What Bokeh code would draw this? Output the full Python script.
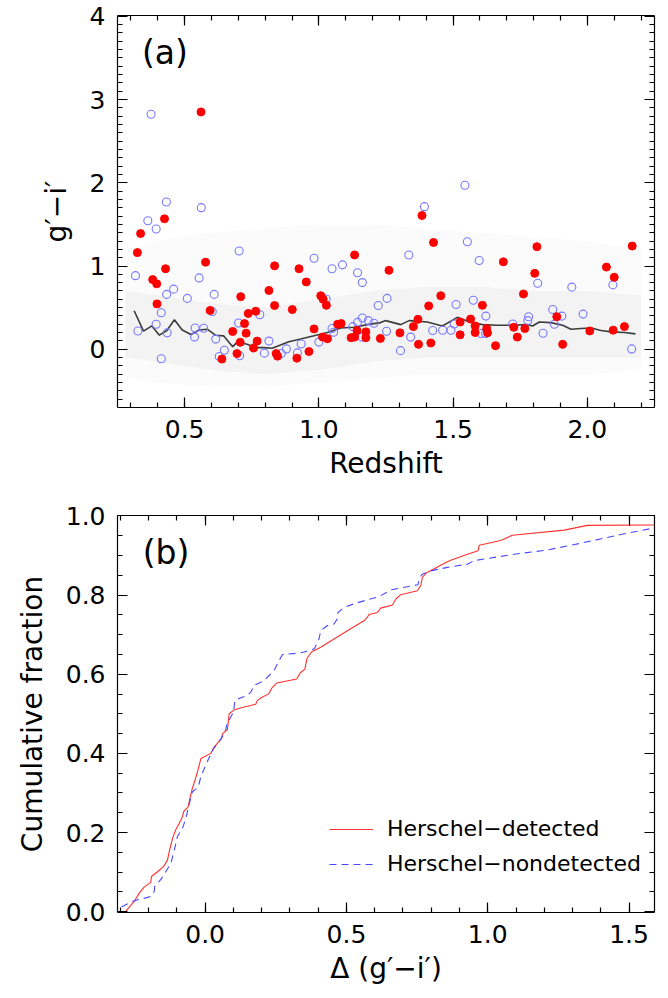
from bokeh.plotting import figure
from bokeh.models import (Range1d, LinearAxis, SingleIntervalTicker, NumeralTickFormatter,
                          CustomJSTickFormatter, Label, Legend, LegendItem)
from bokeh.layouts import column
from bokeh.embed import file_html
from bokeh.resources import INLINE

# ---------------- Panel (a) data ----------------
det_z = [0.561, 0.425, 0.336, 0.324, 0.578, 0.835, 0.926, 1.133, 0.429, 0.381, 0.396, 0.814,
         0.953, 1.007, 1.016, 0.709, 0.397, 0.835, 1.028, 0.901, 0.595, 0.737, 0.765, 0.679,
         0.723, 0.729, 0.707, 0.770, 0.757, 0.639, 0.695, 0.841, 0.846, 0.918, 0.963, 0.982,
         1.014, 1.032, 1.070, 1.083, 1.120, 1.133, 1.142, 1.175, 1.175,
         1.384, 1.427, 1.812, 2.167, 1.687, 1.261, 1.804, 2.071, 2.100, 1.762, 1.454, 1.409,
         1.609, 1.886, 1.369, 1.565, 1.526, 1.352, 1.582, 1.625, 1.726, 1.767, 1.229, 1.302,
         1.526, 1.582, 1.628, 1.371, 1.417, 1.658, 1.739, 1.908, 2.009, 2.096, 2.138]
det_gi = [2.851, 1.567, 1.390, 1.161, 1.046, 1.002, 0.967, 1.133, 0.967, 0.837, 0.786, 0.706,
          0.809, 0.643, 0.600, 0.632, 0.545, 0.525, 0.528, 0.477, 0.466, 0.430, 0.457, 0.213,
          0.308, 0.193, 0.083, 0.098, 0.015, -0.118, -0.052, -0.052, -0.083, -0.107, -0.028, 0.244,
          0.146, 0.126, 0.300, 0.308, 0.139, 0.146, 0.225, 0.209, 0.139,
          1.607, 1.283, 1.232, 1.240, 1.050, 0.948, 0.912, 0.987, 0.865, 0.664, 0.643, 0.521,
          0.528, 0.391, 0.359, 0.363, 0.327, 0.272, 0.280, 0.249, 0.264, 0.249, 0.130, 0.197,
          0.173, 0.201, 0.197, 0.059, 0.075, 0.043, 0.146, 0.059, 0.220, 0.229, 0.272]

non_z = [0.375, 0.432, 0.562, 1.544, 1.393,
         0.363, 0.394, 0.703, 0.982, 1.049, 1.088, 1.144, 1.162, 0.317, 0.554, 0.459, 0.433,
         0.510, 0.610, 1.027, 0.413, 0.603, 0.780, 0.326, 0.394, 0.435, 0.539, 0.571, 0.537,
         0.616, 0.701, 0.814, 0.648, 0.629, 0.413, 0.705, 0.797, 0.860, 0.879, 0.920, 0.934,
         1.000, 1.049, 1.055, 1.126, 1.144, 1.162, 1.161, 1.184, 1.205, 1.221,
         1.553, 1.335, 1.597, 2.095, 1.815, 1.942, 1.254, 1.575, 1.511, 1.871, 1.984, 1.905,
         1.622, 1.781, 1.778, 1.504, 1.722, 1.877, 1.252, 1.342, 1.424, 1.461, 1.492, 1.603,
         1.621, 1.835, 2.165, 1.304]
non_gi = [2.823, 1.769, 1.701, 1.970, 1.713,
          1.544, 1.445, 1.180, 1.094, 0.967, 1.014, 0.919, 0.801, 0.884, 0.857, 0.722, 0.659,
          0.611, 0.659, 0.604, 0.438, 0.454, 0.415, 0.220, 0.300, 0.197, 0.256, 0.252, 0.146,
          0.122, 0.315, 0.098, -0.012, -0.088, -0.115, -0.079, -0.047, -0.052, 0.004, -0.044, 0.063,
          0.086, 0.249, 0.205, 0.272, 0.323, 0.375, 0.146, 0.344, 0.312, 0.525,
          1.291, 1.133, 1.066, 0.773, 0.793, 0.746, 0.611, 0.588, 0.537, 0.477, 0.422, 0.398,
          0.398, 0.391, 0.344, 0.303, 0.303, 0.300, 0.217, 0.146, 0.225, 0.229, 0.229, 0.189,
          0.189, 0.193, 0.004, -0.017]

med_z = [0.312, 0.347, 0.378, 0.406, 0.434, 0.462, 0.491, 0.524, 0.554, 0.584, 0.615, 0.645,
         0.679, 0.695, 0.733, 0.764, 0.795, 0.826, 0.857, 0.888, 0.932, 0.982, 1.032, 1.081,
         1.131, 1.181, 1.230, 1.249, 1.305, 1.336, 1.404, 1.460, 1.516, 1.554, 1.609, 1.665,
         1.728, 1.777, 1.796, 1.821, 1.864, 1.908, 1.939, 1.976, 2.014, 2.051, 2.089, 2.138, 2.179]
med_gi = [0.462, 0.217, 0.280, 0.169, 0.225, 0.355, 0.232, 0.178, 0.232, 0.241, 0.169, 0.161,
          0.031, 0.083, 0.059, 0.019, 0.019, 0.012, 0.051, 0.090, 0.122, 0.161, 0.201, 0.256,
          0.264, 0.296, 0.320, 0.344, 0.296, 0.344, 0.327, 0.280, 0.383, 0.335, 0.296, 0.288,
          0.288, 0.296, 0.280, 0.327, 0.320, 0.288, 0.241, 0.249, 0.256, 0.225, 0.209, 0.201, 0.185]

# background field population (envelopes of the faint grey cloud)
cloud_z = [0.28, 0.40, 0.60, 0.80, 1.00, 1.20, 1.40, 1.60, 1.80, 2.00, 2.20]
cloud_outer_lo = [-0.35, -0.40, -0.45, -0.45, -0.40, -0.35, -0.30, -0.30, -0.30, -0.30, -0.25]
cloud_outer_hi = [1.20, 1.30, 1.40, 1.45, 1.50, 1.50, 1.45, 1.40, 1.35, 1.30, 1.20]
cloud_inner_lo = [-0.10, -0.15, -0.25, -0.30, -0.25, -0.15, -0.10, -0.10, -0.10, -0.10, -0.10]
cloud_inner_hi = [0.70, 0.65, 0.55, 0.50, 0.60, 0.70, 0.75, 0.75, 0.70, 0.70, 0.65]

# ---------------- Panel (b) data ----------------
cdf_det_x = [-0.281, -0.251, -0.233, -0.216, -0.192, -0.190, -0.168, -0.145, -0.133, -0.127,
             -0.115, -0.104, -0.092, -0.080, -0.076, -0.060, -0.051, -0.045, -0.036, -0.027,
             -0.015, 0.020, 0.032, 0.044, 0.058, 0.062, 0.079, 0.085, 0.103, 0.138, 0.179,
             0.185, 0.197, 0.226, 0.235, 0.254, 0.324, 0.336, 0.353, 0.360, 0.376, 0.409,
             0.456, 0.515, 0.562, 0.574, 0.580, 0.610, 0.621, 0.663, 0.675, 0.692, 0.751,
             0.763, 0.769, 0.781, 0.840, 0.869, 0.928, 0.966, 0.970, 1.046, 1.087, 1.270,
             1.353, 1.600]
cdf_det_y = [0.001, 0.026, 0.047, 0.062, 0.074, 0.089, 0.101, 0.116, 0.131, 0.152,
             0.186, 0.207, 0.223, 0.240, 0.253, 0.265, 0.295, 0.312, 0.332, 0.353,
             0.387, 0.400, 0.416, 0.426, 0.437, 0.450, 0.460, 0.500, 0.510, 0.517, 0.524,
             0.534, 0.540, 0.551, 0.564, 0.578, 0.588, 0.603, 0.613, 0.639, 0.656, 0.668,
             0.689, 0.715, 0.735, 0.744, 0.751, 0.756, 0.767, 0.775, 0.790, 0.801, 0.811,
             0.824, 0.845, 0.855, 0.878, 0.888, 0.903, 0.912, 0.926, 0.938, 0.951, 0.964,
             0.976, 0.977]

cdf_non_x = [-0.296, -0.251, -0.210, -0.192, -0.180, -0.178, -0.157, -0.135, -0.121, -0.110,
             -0.098, -0.080, -0.068, -0.057, -0.045, -0.025, -0.015, 0.002, 0.020, 0.030,
             0.044, 0.062, 0.073, 0.077, 0.097, 0.103, 0.105, 0.150, 0.162, 0.173, 0.209,
             0.221, 0.244, 0.262, 0.274, 0.327, 0.350, 0.386, 0.403, 0.409, 0.433, 0.456,
             0.468, 0.470, 0.492, 0.527, 0.574, 0.615, 0.657, 0.692, 0.739, 0.753, 0.760,
             0.769, 0.798, 0.857, 0.928, 0.951, 1.093, 1.211, 1.282, 1.376, 1.470, 1.592]
cdf_non_y = [0.012, 0.028, 0.035, 0.039, 0.051, 0.065, 0.081, 0.106, 0.123, 0.152,
             0.190, 0.211, 0.236, 0.270, 0.303, 0.314, 0.341, 0.370, 0.398, 0.412,
             0.425, 0.443, 0.460, 0.474, 0.500, 0.517, 0.534, 0.547, 0.555, 0.572, 0.584,
             0.593, 0.609, 0.635, 0.650, 0.653, 0.656, 0.664, 0.689, 0.710, 0.723, 0.727,
             0.740, 0.756, 0.769, 0.778, 0.788, 0.796, 0.813, 0.818, 0.824, 0.826, 0.845,
             0.853, 0.861, 0.870, 0.878, 0.887, 0.903, 0.914, 0.924, 0.938, 0.953, 0.970]

FONT = "DejaVu Sans"
TICK_FS = "25px"
LAB_FS = "28px"


def tick_style(ax):
    ax.major_tick_in = 10
    ax.major_tick_out = 0
    ax.minor_tick_in = 5
    ax.minor_tick_out = 0
    ax.axis_line_color = "black"
    ax.major_tick_line_color = "black"
    ax.minor_tick_line_color = "black"
    ax.axis_line_width = 1.2
    ax.major_tick_line_width = 1.2
    ax.minor_tick_line_width = 1.2


def style_axes(p, xint, xminor, yint, yminor, xfmt, yfmt, xlabel, ylabel):
    bottom = p.below[0]
    left = p.left[0]
    bottom.ticker = SingleIntervalTicker(interval=xint, num_minor_ticks=xminor)
    left.ticker = SingleIntervalTicker(interval=yint, num_minor_ticks=yminor)
    bottom.formatter = NumeralTickFormatter(format=xfmt)
    left.formatter = NumeralTickFormatter(format=yfmt)
    bottom.axis_label = xlabel
    left.axis_label = ylabel
    for ax in (bottom, left):
        tick_style(ax)
        ax.major_label_text_font = FONT
        ax.major_label_text_font_size = TICK_FS
        ax.major_label_text_color = "black"
        ax.axis_label_text_font = FONT
        ax.axis_label_text_font_size = LAB_FS
        ax.axis_label_text_font_style = "normal"
        ax.axis_label_text_color = "black"
    bottom.major_label_standoff = 12
    left.major_label_standoff = 12
    bottom.axis_label_standoff = 6
    left.axis_label_standoff = 14
    # mirrored axes (ticks only) on top and right
    top = LinearAxis(ticker=SingleIntervalTicker(interval=xint, num_minor_ticks=xminor),
                     formatter=CustomJSTickFormatter(code="return ''"),
                     major_label_standoff=0)
    right = LinearAxis(ticker=SingleIntervalTicker(interval=yint, num_minor_ticks=yminor),
                       formatter=CustomJSTickFormatter(code="return ''"),
                       major_label_standoff=0)
    for ax in (top, right):
        tick_style(ax)
        ax.major_label_text_font_size = "1px"
    p.add_layout(top, "above")
    p.add_layout(right, "right")
    p.grid.visible = False
    p.outline_line_color = None


# ---------------- Figure (a) ----------------
p1 = figure(frame_width=537, frame_height=392, output_backend="svg", toolbar_location=None,
            x_range=Range1d(0.25, 2.25), y_range=Range1d(-0.7, 4.01),
            min_border_left=117, min_border_right=14, min_border_top=15, min_border_bottom=83,
            background_fill_color="white", border_fill_color="white")
p1.varea(x=cloud_z, y1=cloud_outer_lo, y2=cloud_outer_hi, fill_color="#fbfbfb")
p1.varea(x=cloud_z, y1=cloud_inner_lo, y2=cloud_inner_hi, fill_color="#f3f3f3")
p1.line(med_z, med_gi, line_color="#3c3c3c", line_width=1.6)
p1.scatter(non_z, non_gi, marker="circle", size=8, fill_color=None, line_color="#7878ff",
           line_width=1.1)
p1.scatter(det_z, det_gi, marker="circle", size=8, fill_color="#ff0000", line_color="#ff0000")
style_axes(p1, 0.5, 5, 1, 10, "0.0", "0", "Redshift", "g\u2032\u2212i\u2032")
p1.add_layout(Label(x=0.341, y=3.57, text="(a)", text_font=FONT, text_font_size="33px",
                    text_baseline="middle", text_align="left", text_color="black"))

# ---------------- Figure (b) ----------------
p2 = figure(frame_width=537, frame_height=397, output_backend="svg", toolbar_location=None,
            x_range=Range1d(-0.31, 1.59), y_range=Range1d(-0.002, 1.001),
            min_border_left=117, min_border_right=14, min_border_top=25, min_border_bottom=86,
            background_fill_color="white", border_fill_color="white")
r_det = p2.line(cdf_det_x, cdf_det_y, line_color="#ff3030", line_width=1.1)
r_non = p2.line(cdf_non_x, cdf_non_y, line_color="#4848ff", line_width=1.1, line_dash="7 5")
style_axes(p2, 0.5, 5, 0.2, 4, "0.0", "0.0", "\u0394 (g\u2032\u2212i\u2032)",
           "Cumulative fraction")
p2.add_layout(Label(x=-0.221, y=0.907, text="(b)", text_font=FONT, text_font_size="33px",
                    text_baseline="middle", text_align="left", text_color="black"))
legend = Legend(items=[LegendItem(label="Herschel\u2212detected", renderers=[r_det]),
                       LegendItem(label="Herschel\u2212nondetected", renderers=[r_non])],
                location=(212, 36), padding=0, margin=0, spacing=10,
                glyph_width=44, glyph_height=22, label_height=22, label_standoff=14,
                label_text_font=FONT, label_text_font_size="22px", label_text_color="black",
                border_line_color=None, background_fill_alpha=0)
p2.add_layout(legend, "center")

layout = column(p1, p2, spacing=0)
open("out.html", "w").write(file_html(layout, INLINE))
